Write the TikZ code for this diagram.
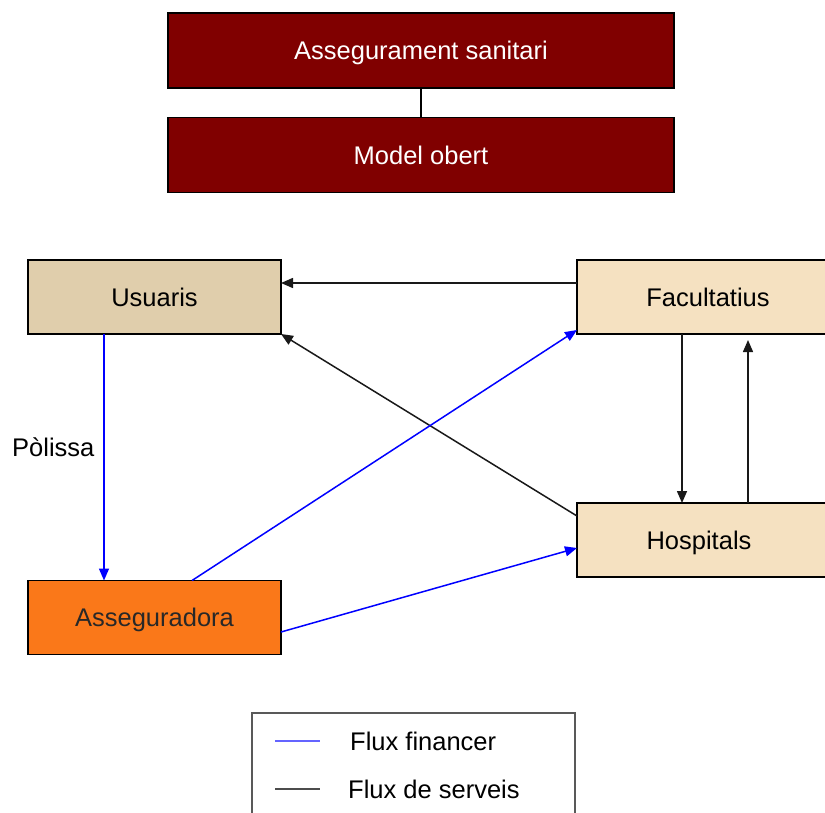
\documentclass[tikz,border=0pt]{standalone}
\usepackage{fontspec}
\setmainfont{Liberation Sans}
\usetikzlibrary{arrows.meta}
\definecolor{darkred}{RGB}{128,0,0}
\definecolor{tanA}{RGB}{224,206,172}
\definecolor{tanB}{RGB}{245,225,193}
\definecolor{orangeA}{RGB}{250,120,25}
\definecolor{legblue}{RGB}{100,100,255}
\definecolor{textgray}{RGB}{40,40,40}
\tikzset{
  box/.style={draw=black, line width=1.5pt, rectangle, inner sep=0pt, outer sep=0pt,
    font=\fontsize{25.5}{30}\selectfont, text height=18.3pt, text depth=0pt},
  topbox/.style={box, fill=darkred, text=white, minimum width=506pt, minimum height=75pt},
  midbox/.style={box, minimum width=253pt, minimum height=74pt},
  fin/.style={draw=blue, line width=1.5pt, -{Triangle[length=12pt,width=10pt]}},
  serv/.style={draw=black!90, line width=1.5pt, -{Triangle[length=12pt,width=10pt]}},
  lbl/.style={font=\fontsize{25.5}{30}\selectfont, inner sep=0pt, anchor=west}
}
\begin{document}
\begin{tikzpicture}[x=1pt,y=-1pt]
\useasboundingbox (0,0) rectangle (825,812);
% top boxes
\node[topbox] (as) at (421,50.5) {Assegurament sanitari};
\node[topbox] (mo) at (421,155) {Model obert};
\draw[line width=1.5pt] (as.south) -- (mo.north);
% main boxes
\node[midbox, fill=tanA] (usu) at (154.5,297) {Usuaris};
\node[midbox, fill=orangeA, text=textgray] (ass) at (154.5,617.5) {Asseguradora};
\node[midbox, fill=tanB, minimum width=262pt] (fac) at (708,297) {Facultatius};
\node[midbox, fill=tanB, minimum width=262pt] (hos) at (708,540) {\hspace*{-18pt}Hospitals};
% connectors
\draw[serv] ([yshift=14pt]fac.west) -- ([yshift=14pt]usu.east);
\draw[serv] ([yshift=24pt]hos.west) -- (usu.south east);
\draw[fin] ([xshift=-50.5pt]usu.south) -- ([xshift=-50.5pt]ass.north);
\draw[fin] ([xshift=37.5pt]ass.north) -- ([yshift=4pt]fac.south west);
\draw[fin] ([yshift=-14.5pt]ass.east) -- ([yshift=-8pt]hos.west);
\draw[serv] ([xshift=-26pt]fac.south) -- ([xshift=-26pt]hos.north);
\draw[serv, shorten >=6pt] ([xshift=40pt]hos.north) -- ([xshift=40pt]fac.south);
\node[lbl] (pol) at (12,447) {Pòlissa};
% legend
\node[draw=black!65, line width=1.5pt, inner sep=0pt, minimum width=323pt, minimum height=120pt] (leg) at (413.5,773) {};
\coordinate (lb1) at (275,741);
\coordinate (lb2) at (320,741);
\coordinate (lk1) at (275,789);
\coordinate (lk2) at (320,789);
\draw[legblue, line width=1.5pt] (lb1) -- (lb2);
\draw[black!70, line width=1.5pt] (lk1) -- (lk2);
\node[lbl] (lf) at (350,741) {Flux financer};
\node[lbl] (ls) at (348,789) {Flux de serveis};
\end{tikzpicture}
\end{document}
